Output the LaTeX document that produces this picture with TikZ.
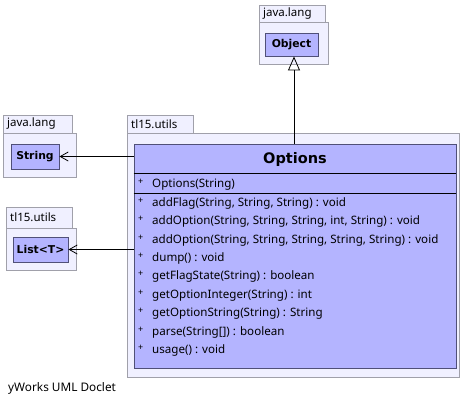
\documentclass[tikz,border=0pt]{standalone}
\usepackage{fontspec}
\setmainfont{Noto Sans}
\newfontfamily\boldface{DejaVu Sans}[BoldFont={DejaVu Sans Bold}]
\usetikzlibrary{arrows.meta,positioning}
\definecolor{pkgfill}{RGB}{240,240,255}
\definecolor{pkgline}{RGB}{160,160,170}
\definecolor{clsfill}{RGB}{180,180,255}
\definecolor{clsline}{RGB}{80,80,120}
\tikzset{
     pkgbody/.style = {draw=pkgline, fill=pkgfill, line width=0.9pt},
      pkgname/.style = {font=\fontsize{11.5}{13}\selectfont, anchor=west, inner sep=2pt},
      cls/.style     = {draw=clsline, fill=clsfill, line width=0.9pt, inner sep=0pt,
                        font=\boldface\bfseries\fontsize{10.8}{12}\selectfont},
      member/.style  = {anchor=west, inner sep=0pt, text height=8pt, text depth=2.5pt,
                        font=\fontsize{11.6}{13}\selectfont},
      extends/.style = {-{Triangle[open, width=12pt, length=14pt]}, line width=0.8pt},
      uses/.style    = {-{Straight Barb[length=8pt, width=9pt]}, line width=0.8pt},
    }

\begin{document}
\begin{tikzpicture}[x=1pt, y=-1pt]
        \useasboundingbox (0,0) rectangle (463,405);

        % packages
        \draw[pkgbody] (259,5) rectangle (325,22);
        \draw[pkgbody] (259,22) rectangle (328,64);
        \node[pkgname] (objpkg) at (261,13.5) {java.lang};

        \draw[pkgbody] (3,115) rectangle (72,133);
        \draw[pkgbody] (3,133) rectangle (76,177);
        \node[pkgname] (strpkg) at (5,124) {java.lang};

        \draw[pkgbody] (6,207) rectangle (72,228);
        \draw[pkgbody] (6,228) rectangle (76,270);
        \node[pkgname] (lstpkg) at (8,217.5) {tl15.utils};

        \draw[pkgbody] (127,115) rectangle (193,133);
        \draw[pkgbody] (127,133) rectangle (459,377);
        \node[pkgname] (optpkg) at (129,124) {tl15.utils};

        % classes
        \node[cls, minimum width=53pt, minimum height=23pt] (obj) at (291.5,44.5) {Object};
        \node[cls, minimum width=48pt, minimum height=25pt] (str) at (35,156.5) {String};
        \node[cls, minimum width=55pt, minimum height=25pt] (lst) at (40.5,249.5) {List<T>};
        \node[cls, minimum width=322pt, minimum height=224pt] (opt) at (295,256) {};

        \node[font=\boldface\bfseries\fontsize{14.5}{16}\selectfont] (optname) at (295,159) {Options};
        \draw[line width=0.8pt] (opt.west |- 0,173) -- (opt.east |- 0,173);
        \draw[line width=0.8pt] (opt.west |- 0,193) -- (opt.east |- 0,193);

        \node[member] (m0) at (138,185) {\makebox[14pt][l]{\raisebox{3pt}{\small +}}Options(String)};
        \node[member] (m1) at (138,204) {\makebox[14pt][l]{\raisebox{3pt}{\small +}}addFlag(String, String, String) : void};
        \node[member] (m2) at (138,222) {\makebox[14pt][l]{\raisebox{3pt}{\small +}}addOption(String, String, String, int, String) : void};
        \node[member] (m3) at (138,241) {\makebox[14pt][l]{\raisebox{3pt}{\small +}}addOption(String, String, String, String, String) : void};
        \node[member] (m4) at (138,259) {\makebox[14pt][l]{\raisebox{3pt}{\small +}}dump() : void};
        \node[member] (m5) at (138,277) {\makebox[14pt][l]{\raisebox{3pt}{\small +}}getFlagState(String) : boolean};
        \node[member] (m6) at (138,296) {\makebox[14pt][l]{\raisebox{3pt}{\small +}}getOptionInteger(String) : int};
        \node[member] (m7) at (138,314) {\makebox[14pt][l]{\raisebox{3pt}{\small +}}getOptionString(String) : String};
        \node[member] (m8) at (138,333) {\makebox[14pt][l]{\raisebox{3pt}{\small +}}parse(String[]) : boolean};
        \node[member] (m9) at (138,351) {\makebox[14pt][l]{\raisebox{3pt}{\small +}}usage() : void};

        % relations
        \draw[extends] (opt.north -| 294,0) -- (obj.south -| 294,0);
        \draw[uses] (opt.west |- str.east) -- (str.east);
        \draw[uses] (opt.west |- lst.east) -- (lst.east);

        \node[anchor=west, inner sep=0pt, font=\fontsize{11.8}{13}\selectfont] (footer) at (8,388) {yWorks UML Doclet};
    \end{tikzpicture}
\end{document}
